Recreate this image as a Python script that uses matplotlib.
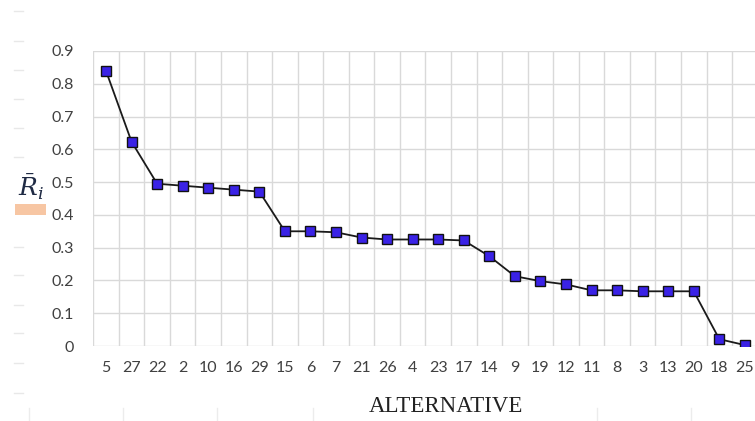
import matplotlib.pyplot as plt
from matplotlib.patches import Rectangle

# Data
alternatives = ["5", "27", "22", "2", "10", "16", "29", "15", "6", "7", "21", "26", "4", "23",
                "17", "14", "9", "19", "12", "11", "8", "3", "13", "20", "18", "25"]
r_values = [0.839, 0.623, 0.495, 0.489, 0.483, 0.477, 0.471, 0.350, 0.350, 0.347, 0.331,
            0.325, 0.325, 0.325, 0.322, 0.274, 0.213, 0.198, 0.188, 0.170, 0.170, 0.167,
            0.167, 0.167, 0.021, 0.003]
y_ticks = [0, 0.1, 0.2, 0.3, 0.4, 0.5, 0.6, 0.7, 0.8, 0.9]
y_tick_labels = ["0", "0.1", "0.2", "0.3", "0.4", "0.5", "0.6", "0.7", "0.8", "0.9"]

plt.rcParams['font.family'] = ['Lato', 'DejaVu Sans']

fig = plt.figure(figsize=(7.55, 4.21), dpi=100)
ax = fig.add_axes([0.1235, 0.178, 0.88, 0.701])

x = list(range(len(alternatives)))
ax.plot(x, r_values, color='#1a1a1a', linewidth=1.3, marker='s', markersize=7.5,
        markerfacecolor='#3a22e6', markeredgecolor='#111111', markeredgewidth=1.0, zorder=3)

ax.set_xlim(-0.5, len(alternatives) - 0.5)
ax.set_ylim(0, 0.9)
ax.set_yticks(y_ticks)
ax.set_yticklabels(y_tick_labels)
ax.set_xticks(x)
ax.set_xticklabels(alternatives)
ax.set_xticks([i - 0.5 for i in range(len(alternatives) + 1)], minor=True)
ax.grid(False)
ax.grid(which='minor', axis='x', color='#d9d9d9', linewidth=1.0)
ax.grid(which='major', axis='y', color='#d9d9d9', linewidth=1.0)
ax.set_axisbelow(True)
for s in ax.spines.values():
    s.set_visible(False)
ax.tick_params(which='both', length=0)
ax.tick_params(axis='y', pad=14, labelsize=11.5, labelcolor='#404040')
ax.tick_params(axis='x', pad=11, labelsize=11.5, labelcolor='#404040')

fig.text(0.591, 0.035, "ALTERNATIVE", family=['Liberation Serif', 'DejaVu Serif'],
         fontsize=16.5, color='#222222', ha='center', va='center')
fig.text(0.041, 0.556, r'$\bar{R}_i$', fontsize=18, color='#1f2a44', ha='center', va='center',
         math_fontfamily='dejavuserif')
fig.patches.append(Rectangle((0.02, 0.49), 0.041, 0.025, transform=fig.transFigure,
                             facecolor='#f7c6a3', edgecolor='none'))

# faint frame ticks at the left and bottom edge
for yy in [11, 41, 70, 99, 128, 157, 247, 275, 305, 333, 363, 393]:
    fig.add_artist(plt.Line2D([0.018, 0.031], [1 - yy / 421, 1 - yy / 421],
                              transform=fig.transFigure, color='#e8e8e8', linewidth=1))
for xx in [29, 123, 217, 313, 597, 691]:
    fig.add_artist(plt.Line2D([xx / 755, xx / 755], [0, 0.03],
                              transform=fig.transFigure, color='#ececec', linewidth=1))

fig.savefig("out.png", dpi=100)
